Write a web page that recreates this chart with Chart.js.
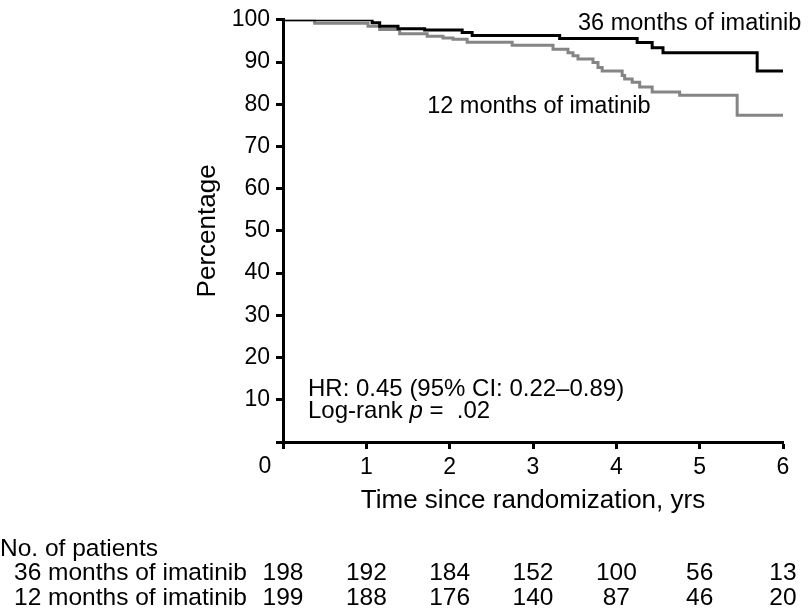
<!DOCTYPE html>
<html lang="en">
<head>
<meta charset="UTF-8">
<title>Imatinib duration - Kaplan-Meier</title>
<script src="https://cdn.jsdelivr.net/npm/chart.js"></script>
<style>
  html, body { margin: 0; padding: 0; background: #fff; }
  #wrap { width: 808px; height: 616px; }
</style>
</head>
<body>
<div id="wrap"><canvas id="km" width="808" height="616"></canvas></div>
<script>
// survival steps (years, percent)
const years36 = [0, 1.07, 1.16, 1.38, 1.70, 2.15, 2.27, 3.32, 4.25, 4.43, 4.56, 5.69, 6];
const pct36   = [100, 99.3, 98.5, 97.9, 97.6, 97.0, 96.3, 95.6, 94.6, 93.4, 92.2, 87.9, 87.9];

const years12 = [0, 0.38, 1.02, 1.16, 1.40, 1.73, 1.92, 2.04, 2.21, 2.75, 3.24, 3.42, 3.48, 3.54,
                 3.72, 3.78, 3.83, 4.07, 4.10, 4.19, 4.28, 4.43, 4.76, 5.45, 6];
const pct12   = [100, 99.2, 98.5, 97.7, 96.7, 96.1, 95.7, 95.4, 94.7, 94.0, 93.0, 92.2, 91.5, 90.7,
                 89.9, 88.7, 87.9, 86.8, 86.0, 85.2, 84.1, 82.9, 82.1, 77.4, 77.4];

// numbers at risk
const riskYears = [0, 1, 2, 3, 4, 5, 6];
const atRisk36 = [198, 192, 184, 152, 100, 56, 13];
const atRisk12 = [199, 188, 176, 140, 87, 46, 20];
const groupNames = ['36 months of imatinib', '12 months of imatinib'];

const FONT = '"Liberation Sans", Arial, Helvetica, sans-serif';

function toPoints(xs, ys) {
    return xs.map((t, i) => ({ x: t, y: ys[i] }));
}

const extras = {
    id: 'extras',
    afterDraw(chart) {
        const { ctx, scales: { x, y } } = chart;
        ctx.save();
        ctx.fillStyle = '#000';
        ctx.textBaseline = 'alphabetic';
        ctx.textAlign = 'left';

        // curve labels
        ctx.font = '23.5px ' + FONT;
        ctx.fillText(groupNames[0], x.getPixelForValue(3.54), y.getPixelForValue(97.5));
        ctx.fillText(groupNames[1], x.getPixelForValue(1.73), y.getPixelForValue(77.9));

        // stats
        ctx.font = '24px ' + FONT;
        const sx = x.getPixelForValue(0.30);
        ctx.fillText('HR: 0.45 (95% CI: 0.22\u20130.89)', sx, y.getPixelForValue(10.9));
        const ly = y.getPixelForValue(5.77);
        let cx = sx;
        ctx.fillText('Log-rank ', cx, ly);
        cx += ctx.measureText('Log-rank ').width;
        ctx.font = 'italic 24px ' + FONT;
        ctx.fillText('p', cx, ly);
        cx += ctx.measureText('p').width;
        ctx.font = '24px ' + FONT;
        ctx.fillText(' =  .02', cx, ly);

        // origin label sits left of the corner
        ctx.font = '23px ' + FONT;
        ctx.textAlign = 'center';
        ctx.textBaseline = 'middle';
        ctx.fillText('0', x.getPixelForValue(0) - 18, 467);

        // number at risk table
        ctx.font = '24.5px ' + FONT;
        ctx.textAlign = 'left';
        ctx.textBaseline = 'alphabetic';
        ctx.fillText('No. of patients', 0, 556);
        ctx.fillText(groupNames[0], 14, 580);
        ctx.fillText(groupNames[1], 14, 605);
        ctx.textAlign = 'center';
        riskYears.forEach((t, i) => {
            const px = x.getPixelForValue(t);
            ctx.fillText(String(atRisk36[i]), px, 580);
            ctx.fillText(String(atRisk12[i]), px, 605);
        });
        ctx.restore();
    }
};

new Chart(document.getElementById('km'), {
    type: 'line',
    data: {
        datasets: [
            {
                label: groupNames[0],
                data: toPoints(years36, pct36),
                borderColor: '#000',
                borderWidth: 3,
                stepped: 'before',
                pointRadius: 0,
                fill: false,
                order: 0
            },
            {
                label: groupNames[1],
                data: toPoints(years12, pct12),
                borderColor: '#858585',
                borderWidth: 3,
                stepped: 'before',
                pointRadius: 0,
                fill: false,
                order: 1
            }
        ]
    },
    options: {
        responsive: false,
        animation: false,
        layout: { padding: { left: 192, right: 25, top: 13, bottom: 100 } },
        plugins: {
            legend: { display: false },
            tooltip: { enabled: false }
        },
        scales: {
            x: {
                type: 'linear',
                min: 0,
                max: 6,
                ticks: {
                    stepSize: 1,
                    color: '#000',
                    padding: 5,
                    font: { family: FONT, size: 23 },
                    callback: v => (v === 0 ? '' : v)
                },
                grid: {
                    drawOnChartArea: false,
                    drawTicks: true,
                    tickLength: 7,
                    tickWidth: 3,
                    tickColor: '#000'
                },
                border: { color: '#000', width: 3 },
                title: {
                    display: true,
                    text: 'Time since randomization, yrs',
                    color: '#000',
                    font: { family: FONT, size: 26 },
                    padding: { top: 0, bottom: 0 }
                },
                afterFit: s => { s.height = 74; }
            },
            y: {
                min: 0,
                max: 100,
                ticks: {
                    stepSize: 10,
                    color: '#000',
                    padding: 6,
                    font: { family: FONT, size: 23 },
                    callback: v => (v === 0 ? '' : v)
                },
                grid: {
                    drawOnChartArea: false,
                    drawTicks: true,
                    tickLength: 7,
                    tickWidth: 3,
                    tickColor: '#000'
                },
                border: { color: '#000', width: 3 },
                title: {
                    display: true,
                    text: 'Percentage',
                    color: '#000',
                    font: { family: FONT, size: 26 },
                    padding: { top: 0, bottom: 0 }
                },
                afterFit: s => { s.width = 91; }
            }
        }
    },
    plugins: [extras]
});
</script>
</body>
</html>
